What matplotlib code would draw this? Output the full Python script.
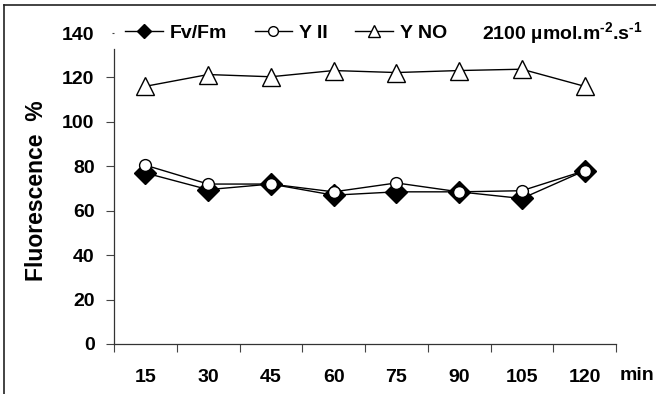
import matplotlib
matplotlib.use('Agg')
import matplotlib.pyplot as plt
from matplotlib.lines import Line2D

plt.rcParams['font.family'] = ['Liberation Sans', 'DejaVu Sans']
plt.rcParams['font.weight'] = 'bold'
plt.rcParams['mathtext.fontset'] = 'custom'
plt.rcParams['mathtext.default'] = 'bf'
plt.rcParams['mathtext.bf'] = 'Liberation Sans:bold'
plt.rcParams['mathtext.rm'] = 'Liberation Sans:bold'

# sampling time (min) and fluorescence values (%)
minutes = ['15', '30', '45', '60', '75', '90', '105', '120']
fv_fm = [77, 69.5, 72, 67, 68.5, 68.5, 65.5, 78]
y_ii = [80.5, 72, 72, 68.5, 72.5, 68.5, 69, 78]
y_no = [116, 121.3, 120.3, 123.1, 122.2, 123.1, 123.7, 116]
y_ticks = [0, 20, 40, 60, 80, 100, 120, 140]

W, H = 656, 394
FS = 14
fig = plt.figure(figsize=(W / 100, H / 100), dpi=100)
ax = fig.add_axes([114 / W, 1 - 344 / H, 502 / W, 311 / H])

x = list(range(len(minutes)))
ax.plot(x, fv_fm, color='black', lw=1.0, marker='D', ms=11,
        mfc='black', mec='black', mew=1.0, zorder=3)
ax.plot(x, y_ii, color='black', lw=1.0, marker='o', ms=8.5,
        mfc='white', mec='black', mew=1.0, zorder=4)
ax.plot(x, y_no, color='black', lw=1.0, marker='^', ms=12.5,
        mfc='white', mec='black', mew=1.0, zorder=3)

ax.set_xlim(-0.5, len(minutes) - 0.5)
ax.set_ylim(0, 140)
ax.set_yticks(y_ticks)
ax.set_yticklabels([str(v) for v in y_ticks], fontsize=FS, fontweight='bold')

# category boundaries carry the tick marks, labels sit in between
ax.set_xticks([i - 0.5 for i in range(len(minutes) + 1)])
ax.set_xticklabels([])
ax.set_xticks(x, minor=True)
ax.set_xticklabels(minutes, minor=True, fontsize=FS, fontweight='bold')
ax.tick_params(axis='x', which='major', direction='out', length=6, width=0.8, color='#444444')
ax.tick_params(axis='x', which='minor', length=0, pad=18)
ax.tick_params(axis='y', direction='out', length=6, width=0.8, color='#444444', pad=8)
# the top tick is mostly hidden behind the legend
ax.yaxis.get_major_ticks()[-1].tick1line.set_markersize(1.5)

for s in ['top', 'right']:
    ax.spines[s].set_visible(False)
for s in ['left', 'bottom']:
    ax.spines[s].set_color('#333333')
    ax.spines[s].set_linewidth(0.9)
ax.spines['left'].set_bounds(0, 133)

fig.text(620 / W, 1 - 376 / H, 'min', fontsize=FS, fontweight='bold', ha='left', va='center')
fig.text(37 / W, 1 - 191 / H, 'Fluorescence  %', fontsize=16.5, fontweight='bold',
         rotation=90, ha='center', va='center')

handles = [
    Line2D([], [], color='black', lw=1.0, marker='D', ms=7.5, mfc='black', mec='black'),
    Line2D([], [], color='black', lw=1.0, marker='o', ms=7, mfc='white', mec='black'),
    Line2D([], [], color='black', lw=1.0, marker='^', ms=9, mfc='white', mec='black'),
]
leg = fig.legend(handles, ['Fv/Fm', 'Y II', 'Y NO'], ncol=3, loc='center left',
                 bbox_to_anchor=(125 / W, 1 - 33 / H), frameon=False,
                 prop={'size': FS, 'weight': 'bold'}, handlelength=1.95,
                 handletextpad=0.36, columnspacing=1.4, borderpad=0, borderaxespad=0)

fig.text(482 / W, 1 - 33 / H, r'2100 µmol.m$^{\text{-2}}$.s$^{\text{-1}}$', fontsize=FS,
         fontweight='bold', ha='left', va='center')

# outer chart border (left and top edges visible)
fig.add_artist(Line2D([3.5 / W, 3.5 / W], [0, 1 - 4.5 / H], color='#222222', lw=1.2,
                      transform=fig.transFigure))
fig.add_artist(Line2D([3.5 / W, 1], [1 - 4.5 / H, 1 - 4.5 / H], color='#222222', lw=1.2,
                      transform=fig.transFigure))

fig.savefig('out.png', dpi=100)
